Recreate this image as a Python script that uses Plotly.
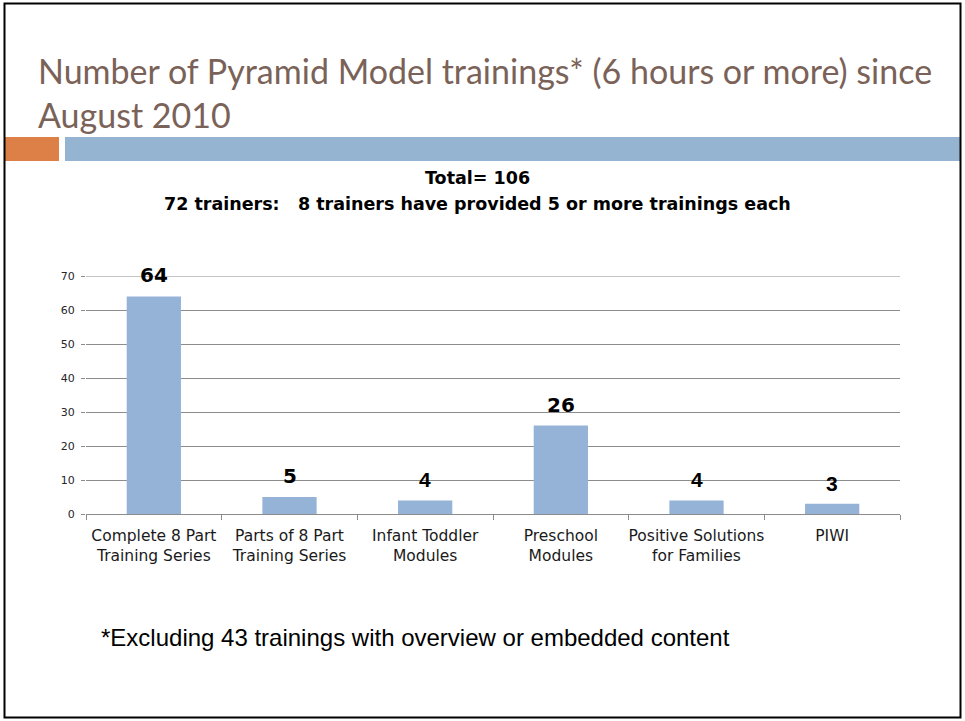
import plotly.graph_objects as go

categories = ["Complete 8 Part<br>Training Series", "Parts of 8 Part<br>Training Series",
              "Infant Toddler<br>Modules", "Preschool<br>Modules",
              "Positive Solutions<br>for Families", "PIWI"]
values = [64, 5, 4, 26, 4, 3]
y_ticks = [0, 10, 20, 30, 40, 50, 60, 70]

title_line1 = "Number of Pyramid Model trainings* (6 hours or more) since"
title_line2 = "August 2010"
chart_title1 = "Total= 106"
chart_title2 = "72 trainers:   8 trainers have provided 5 or more trainings each"
footnote = "*Excluding 43 trainings with overview or embedded content"

W, H = 965, 721
L, R, T, B = 86, 900, 276, 514

def px(x):
    return (x - L) / (R - L)

def py(y):
    return (B - y) / (B - T)

fig = go.Figure(go.Bar(
    x=categories, y=values, marker=dict(color="#95b3d7", line=dict(width=0)),
))

fig.update_layout(
    width=W, height=H,
    margin=dict(l=L, r=W - R, t=T, b=H - B),
    paper_bgcolor="white", plot_bgcolor="white",
    showlegend=False, bargap=0.6,
    font=dict(family="DejaVu Sans", color="#262626"),
)
fig.update_yaxes(range=[0, 70], tickvals=y_ticks,
                 showgrid=True, gridcolor="#8c8c8c", gridwidth=1,
                 ticks="outside", ticklen=4, tickcolor="#8c8c8c", showline=False,
                 zeroline=False, ticklabelstandoff=4,
                 tickfont=dict(family="DejaVu Sans", size=11, color="#262626"))
fig.update_xaxes(showline=True, linecolor="#8c8c8c", linewidth=1, ticks="outside",
                 tickson="boundaries", ticklen=5, tickcolor="#8c8c8c", ticklabelstandoff=7,
                 tickangle=0,
                 tickfont=dict(family="DejaVu Sans", size=15.5, color="#1a1a1a"))

shapes = [
    dict(type="line", xref="paper", yref="y", x0=0, x1=1, y0=y_ticks[-1], y1=y_ticks[-1],
         line=dict(color="#8c8c8c", width=1), layer="below"),
    dict(type="rect", xref="paper", yref="paper", x0=px(5), x1=px(59), y0=py(137), y1=py(161),
         fillcolor="#dd8047", line=dict(width=0), layer="below"),
    dict(type="rect", xref="paper", yref="paper", x0=px(65), x1=px(960), y0=py(137), y1=py(161),
         fillcolor="#94b4d2", line=dict(width=0), layer="below"),
    dict(type="rect", xref="paper", yref="paper", x0=px(4.5), x1=px(960.5), y0=py(3.5), y1=py(717.5),
         line=dict(color="black", width=2), fillcolor="rgba(0,0,0,0)"),
]
fig.update_layout(shapes=shapes)

anns = [
    dict(text=title_line1, x=px(36), y=py(70), xanchor="left", yanchor="middle",
         font=dict(family="Lato", size=34, color="#7a6258")),
    dict(text=title_line2, x=px(36), y=py(114), xanchor="left", yanchor="middle",
         font=dict(family="Lato", size=34, color="#7a6258")),
    dict(text="<b>" + chart_title1 + "</b>", x=px(477), y=py(178), xanchor="center", yanchor="middle",
         font=dict(family="DejaVu Sans", size=17.5, color="black")),
    dict(text="<b>" + chart_title2 + "</b>", x=px(477), y=py(204), xanchor="center", yanchor="middle",
         font=dict(family="DejaVu Sans", size=17.5, color="black")),
    dict(text=footnote, x=px(99), y=py(637), xanchor="left", yanchor="middle",
         font=dict(family="Liberation Sans", size=24, color="black")),
]
for a in anns:
    a.update(xref="paper", yref="paper", showarrow=False)

label_fonts = ["DejaVu Sans", "DejaVu Sans", "Liberation Sans", "DejaVu Sans", "Liberation Sans", "Liberation Sans"]
for c, v, f in zip(categories, values, label_fonts):
    anns.append(dict(x=c, y=v, xref="x", yref="y", text="<b>%d</b>" % v, showarrow=False,
                     xanchor="center", yanchor="bottom", yshift=7,
                     font=dict(family=f, size=20 if f == "DejaVu Sans" else 21, color="black")))
fig.update_layout(annotations=anns)

fig.write_html("out.html", config={"displayModeBar": False},
               post_script="document.body.style.margin='0';document.body.style.overflow='hidden';")
